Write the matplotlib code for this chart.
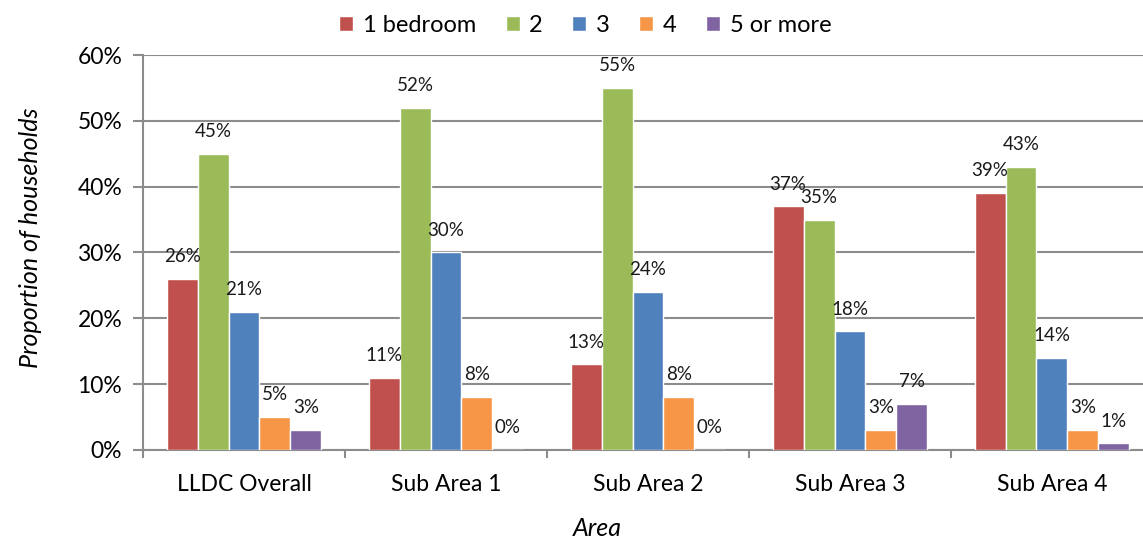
import numpy as np
import matplotlib.pyplot as plt

plt.rcParams['font.family'] = ['Lato', 'DejaVu Sans']

areas = ["LLDC Overall", "Sub Area 1", "Sub Area 2", "Sub Area 3", "Sub Area 4"]
series = ["1 bedroom", "2", "3", "4", "5 or more"]
one_bed = [26, 11, 13, 37, 39]
two_bed = [45, 52, 55, 35, 43]
three_bed = [21, 30, 24, 18, 14]
four_bed = [5, 8, 8, 3, 3]
five_plus = [3, 0, 0, 7, 1]
colors = ["#C0504D", "#9BBB59", "#4F81BD", "#F79646", "#8064A2"]


def main():
    fig = plt.figure(figsize=(11.43, 5.43), dpi=100)
    ax = fig.add_axes([0.1251, 0.1713, 0.8836, 0.7274])

    values = [one_bed, two_bed, three_bed, four_bed, five_plus]
    x = np.arange(len(areas))
    width = 0.153
    for i, (name, vals) in enumerate(zip(series, values)):
        pos = x + (i - 2) * width
        ax.bar(pos, vals, width, color=colors[i], label=name,
               edgecolor="white", linewidth=1.0, zorder=3)
        for px, v in zip(pos, vals):
            ax.annotate(f"{v}%", (px, v), xytext=(0, 10), textcoords="offset points",
                        ha="center", va="bottom", fontsize=13.5, color="#1a1a1a", zorder=4)

    ax.set_xlim(-0.5, len(areas) - 0.5)
    ax.set_ylim(0, 60)
    ax.set_yticks(range(0, 61, 10))
    ax.set_yticklabels([f"{t}%" for t in range(0, 61, 10)], fontsize=16.5)
    ax.set_xticks(x)
    ax.set_xticklabels(areas, fontsize=16.5)
    ax.set_xticks(np.arange(-0.5, len(areas), 1), minor=True)
    ax.tick_params(axis="x", which="major", length=0, pad=17)
    ax.tick_params(axis="x", which="minor", length=6, color="#8c8c8c", width=1.5)
    ax.tick_params(axis="y", length=7, color="#8c8c8c", width=1.5, pad=8)

    ax.grid(axis="y", color="#8c8c8c", linewidth=1.5, zorder=0)
    for side in ["top", "right"]:
        ax.spines[side].set_visible(False)
    for side in ["left", "bottom"]:
        ax.spines[side].set_color("#8c8c8c")
        ax.spines[side].set_linewidth(1.5)

    fig.text(0.027, 0.563, "Proportion of households", rotation=90, ha="center",
             va="center", fontsize=18, style="italic")
    fig.text(0.523, 0.026, "Area", ha="center", va="center", fontsize=18, style="italic")

    fig.legend(loc="center", bbox_to_anchor=(0.512, 0.953), ncol=5, frameon=False,
               fontsize=17, handlelength=0.6, handleheight=0.6, handletextpad=0.4,
               columnspacing=1.25)

    fig.savefig("out.png", dpi=100)


if __name__ == '__main__':
    main()
